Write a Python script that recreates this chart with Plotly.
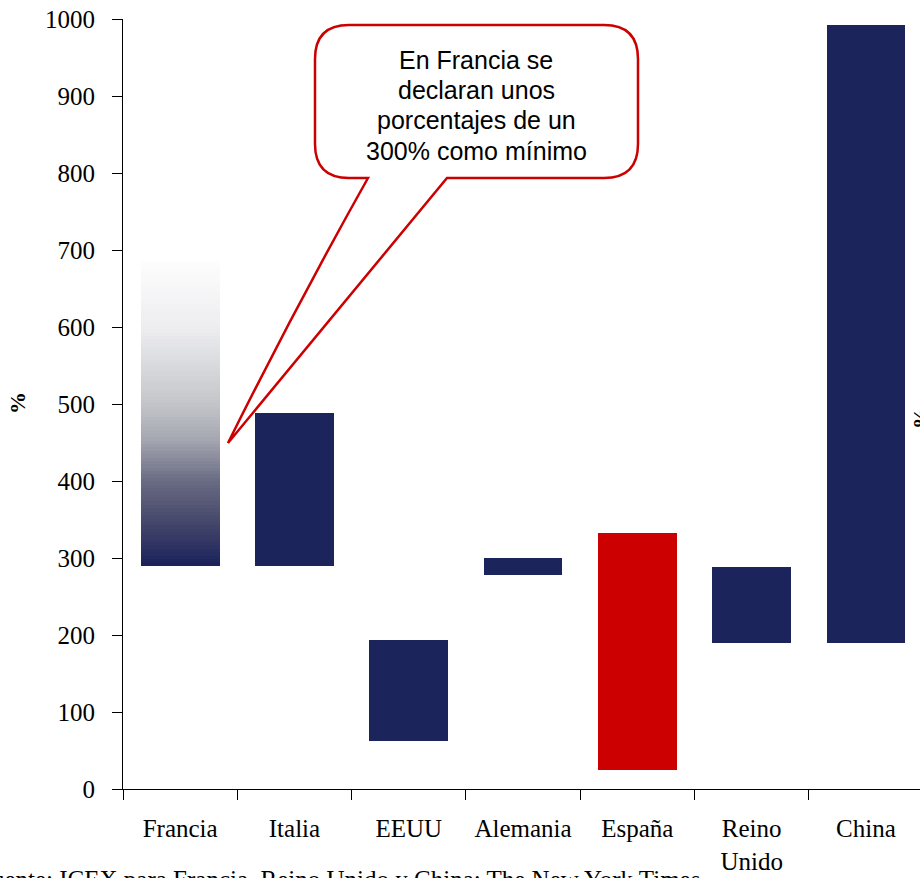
import plotly.graph_objects as go

# Range of declared percentages per country (lower and upper bound, %)
tick_labels = ["Francia", "Italia", "EEUU", "Alemania", "España", "Reino<br>Unido", "China"]
low_values = [290, 290, 62, 278, 25, 190, 190]
high_values = [685, 488, 193, 300, 333, 288, 992]
highlight = "España"

callout_lines = ["En Francia se", "declaran unos", "porcentajes de un", "300% como mínimo"]
source_note = "Fuente: ICEX para Francia, Reino Unido y China; The New York Times"

NAVY = "#1c245c"
RED = "#cc0000"
SERIF = "Liberation Serif, Times New Roman, serif"
SANS = "Liberation Sans, Arial, sans-serif"
BAR_W = 0.69

W, H = 920, 878
L, R, T, B = 123, 920, 19, 789  # plot area in pixels


def px(x, y):
    """Pixel position -> paper coordinates."""
    return (x - L) / (R - L), (B - y) / (B - T)


def lerp_color(stops, f):
    for (f0, c0), (f1, c1) in zip(stops, stops[1:]):
        if f0 <= f <= f1:
            t = (f - f0) / (f1 - f0) if f1 > f0 else 0
            rgb = [round(a + (b - a) * t) for a, b in zip(c0, c1)]
            return "rgb({},{},{})".format(*rgb)
    return "rgb({},{},{})".format(*stops[-1][1])


fig = go.Figure()

# First country: upper bound is uncertain, so the bar fades out upward
grad_stops = [
    (0.00, (27, 34, 90)),
    (0.03, (35, 42, 94)),
    (0.14, (68, 70, 106)),
    (0.28, (106, 108, 132)),
    (0.41, (163, 165, 176)),
    (0.53, (195, 197, 201)),
    (0.78, (237, 237, 240)),
    (1.00, (253, 253, 253)),
]
n_seg = 90
f_low, f_high = low_values[0], high_values[0]
step = (f_high - f_low) / n_seg
fig.add_trace(go.Bar(
    x=[tick_labels[0]] * n_seg,
    base=[f_low + i * step for i in range(n_seg)],
    y=[step * 1.02] * n_seg,
    width=BAR_W,
    marker=dict(color=[lerp_color(grad_stops, (i + 0.5) / n_seg) for i in range(n_seg)],
                line=dict(width=0)),
    hoverinfo="skip",
    showlegend=False,
))

# Remaining countries as floating bars
rest = list(range(1, len(tick_labels)))
fig.add_trace(go.Bar(
    x=[tick_labels[i] for i in rest],
    base=[low_values[i] for i in rest],
    y=[high_values[i] - low_values[i] for i in rest],
    width=BAR_W,
    marker=dict(color=[RED if tick_labels[i] == highlight else NAVY for i in rest],
                line=dict(width=0)),
    showlegend=False,
))

# Speech-bubble callout
bx0, bx1, by0, by1, rr = 315, 638, 25, 178, 34
tip = (228, 443)
pl, pr = 368, 447


def P(x, y):
    a, b = px(x, y)
    return f"{a:.5f},{b:.5f}"


path = (
    f"M {P(bx0 + rr, by0)} L {P(bx1 - rr, by0)} Q {P(bx1, by0)} {P(bx1, by0 + rr)} "
    f"L {P(bx1, by1 - rr)} Q {P(bx1, by1)} {P(bx1 - rr, by1)} "
    f"L {P(pr, by1)} L {P(*tip)} Q {P(295, 308)} {P(pl, by1)} "
    f"L {P(bx0 + rr, by1)} Q {P(bx0, by1)} {P(bx0, by1 - rr)} "
    f"L {P(bx0, by0 + rr)} Q {P(bx0, by0)} {P(bx0 + rr, by0)} Z"
)
fig.add_shape(type="path", path=path, xref="paper", yref="paper",
              fillcolor="white", line=dict(color=RED, width=2.5), layer="above")

line_y = [60, 90, 120, 151]
for txt, yy in zip(callout_lines, line_y):
    ax, ay = px(476, yy)
    fig.add_annotation(text=txt, x=ax, y=ay, xref="paper", yref="paper",
                       showarrow=False, xanchor="center", yanchor="middle",
                       font=dict(family=SANS, size=25, color="black"))

# Axis titles
ax, ay = px(17, 403)
fig.add_annotation(text="<b>%</b>", x=ax, y=ay, xref="paper", yref="paper",
                   showarrow=False, textangle=-90, xanchor="center", yanchor="middle",
                   font=dict(family=SERIF, size=22, color="black"))
ax, ay = px(920, 418)
fig.add_annotation(text="<b>%</b>", x=ax, y=ay, xref="paper", yref="paper",
                   showarrow=False, textangle=-90, xanchor="center", yanchor="middle",
                   font=dict(family=SERIF, size=22, color="black"))

# Source note
ax, ay = px(-24, 879)
fig.add_annotation(text=source_note, x=ax, y=ay, xref="paper", yref="paper",
                   showarrow=False, xanchor="left", yanchor="middle",
                   font=dict(family=SERIF, size=25, color="black"))

fig.update_layout(
    width=W, height=H,
    margin=dict(l=L, r=W - R, t=T, b=H - B, pad=0),
    paper_bgcolor="white", plot_bgcolor="white",
    barmode="overlay", bargap=0,
    showlegend=False,
    xaxis=dict(
        type="category", categoryorder="array", categoryarray=tick_labels,
        range=[-0.5, -0.5 + (R - L) / 114.3],
        tickson="boundaries", ticks="outside", ticklen=10, tickwidth=1, tickcolor="black",
        showline=True, linecolor="black", linewidth=1, showgrid=False, zeroline=False,
        tickfont=dict(family=SERIF, size=25, color="black"),
        ticklabelstandoff=17,
    ),
    yaxis=dict(
        range=[0, 1000], tickmode="linear", tick0=0, dtick=100,
        ticks="outside", ticklen=10, tickwidth=1, tickcolor="black",
        showline=True, linecolor="black", linewidth=1, showgrid=False, zeroline=False,
        tickfont=dict(family=SERIF, size=25, color="black"),
        ticklabelstandoff=12,
    ),
)

fig.write_html("out.html")
